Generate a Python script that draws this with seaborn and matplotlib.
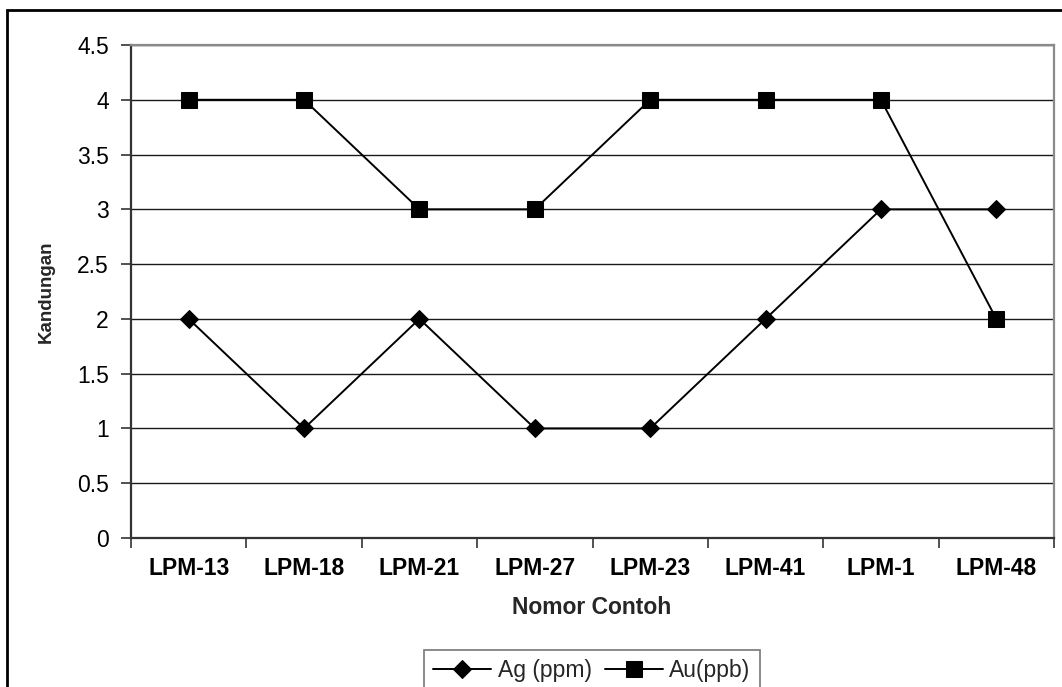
import numpy as np
import pandas as pd
import matplotlib
matplotlib.use("Agg")
import matplotlib.pyplot as plt
import matplotlib.patches as mpatches
import seaborn as sns

categories = ["LPM-13", "LPM-18", "LPM-21", "LPM-27", "LPM-23", "LPM-41", "LPM-1", "LPM-48"]
ag_ppm = [2, 1, 2, 1, 1, 2, 3, 3]
au_ppb = [4, 4, 3, 3, 4, 4, 4, 2]
y_ticks = [0, 0.5, 1, 1.5, 2, 2.5, 3, 3.5, 4, 4.5]

sns.set_theme(style="white")
plt.rcParams['font.family'] = ['Liberation Sans', 'DejaVu Sans']

W, H = 1062, 687
fig = plt.figure(figsize=(W / 100, H / 100), dpi=100)
fig.patch.set_facecolor("white")
ax = fig.add_axes([131 / W, 1 - 538 / H, (1054 - 131) / W, (538 - 45) / H])

df_ag = pd.DataFrame({"cat": categories, "val": ag_ppm})
df_au = pd.DataFrame({"cat": categories, "val": au_ppb})

for yv in y_ticks[1:]:
    ax.axhline(yv, color="#1a1a1a", lw=1.0, zorder=0)

sns.lineplot(data=df_ag, x="cat", y="val", ax=ax, color="black", lw=1.4,
             marker="D", markersize=9.5, markeredgecolor="black", label="Ag (ppm)",
             sort=False, legend=False)
sns.lineplot(data=df_au, x="cat", y="val", ax=ax, color="black", lw=1.4,
             marker="s", markersize=11.5, markeredgecolor="black", label="Au(ppb)",
             sort=False, legend=False)

ax.set_xlim(-0.5, len(categories) - 0.5)
ax.set_ylim(0, 4.5)
ax.set_yticks(y_ticks)
ax.set_yticklabels([f"{v:g}" for v in y_ticks], fontsize=16.5)
ax.set_xticks(range(len(categories)))
ax.set_xticklabels(categories, fontsize=16.5, fontweight="bold")
ax.set_xticks(np.arange(-0.5, len(categories), 1), minor=True)
ax.tick_params(axis="x", which="major", length=0, pad=14, colors="black")
ax.tick_params(axis="x", which="minor", length=7, width=1.2, color="#333333", direction="out", bottom=True)
ax.tick_params(axis="y", which="major", length=7, width=1.2, color="#333333", direction="out", left=True, pad=9, labelcolor="black")

for s in ["left", "bottom"]:
    ax.spines[s].set_color("#333333")
    ax.spines[s].set_linewidth(1.6)
for s in ["top", "right"]:
    ax.spines[s].set_color("#8a8a8a")
    ax.spines[s].set_linewidth(1.6)

ax.set_xlabel("Nomor Contoh", fontsize=16.5, fontweight="bold")
ax.set_ylabel("Kandungan", fontsize=13.5, fontweight="bold")
ax.xaxis.set_label_coords((592 - 131) / (1054 - 131), -(608 - 538) / (538 - 45))
ax.xaxis.label.set_va("center")
ax.yaxis.set_label_coords(-(131 - 46) / (1054 - 131), 0.5)
ax.yaxis.label.set_va("center")

handles, labels = ax.get_legend_handles_labels()
leg = fig.legend(handles, labels, loc="upper center", bbox_to_anchor=(592 / W, 1 - 650 / H),
                 ncol=2, frameon=True, fancybox=False, fontsize=16.5, handlelength=2.5,
                 handletextpad=0.3, columnspacing=0.6, borderpad=0.4, borderaxespad=0)
leg.get_frame().set_edgecolor("#555555")
leg.get_frame().set_linewidth(1.2)

frame = mpatches.Rectangle((7 / W, -0.2), 1.2, 1.2 - 9.5 / H, transform=fig.transFigure,
                           fill=False, edgecolor="black", lw=2, clip_on=False)
fig.patches.append(frame)

fig.savefig("out.png", dpi=100, facecolor="white")
